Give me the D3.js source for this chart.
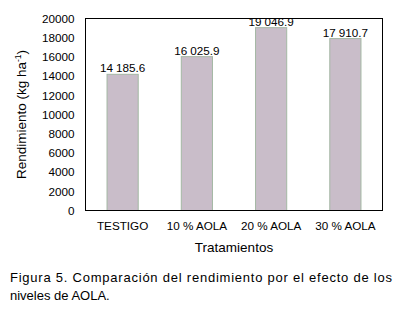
<!DOCTYPE html>
<html><head><meta charset="utf-8">
<script src="https://cdn.jsdelivr.net/npm/d3@7"></script>
<style>body{margin:0;background:#fff}svg{display:block;font-family:"Liberation Sans",Arial,sans-serif}</style>
</head><body>
<svg id="c" width="404" height="313"></svg>
<script>
const categories = ["TESTIGO", "10 % AOLA", "20 % AOLA", "30 % AOLA"];
const yields = [14185.6, 16025.9, 19046.9, 17910.7];
const valueLabels = ["14 185.6", "16 025.9", "19 046.9", "17 910.7"];
const yTicks = [0, 2000, 4000, 6000, 8000, 10000, 12000, 14000, 16000, 18000, 20000];

const svg = d3.select("#c");
const m = {l: 85.5, t: 18.5, r: 382.5, b: 210.5};

const x = d3.scaleBand().domain(categories).range([m.l, m.r]).paddingInner(0.58).paddingOuter(0.29);
const y = d3.scaleLinear().domain([0, 20000]).range([m.b, m.t]);

svg.append("g").selectAll("rect").data(yields).join("rect")
  .attr("x", (d,i) => x(categories[i]))
  .attr("y", d => y(d))
  .attr("width", x.bandwidth())
  .attr("height", d => y(0) - y(d))
  .attr("fill", "#c9bdc9")
  .attr("stroke", "#a4b8a4").attr("stroke-width", 1);

svg.append("rect").attr("x", m.l).attr("y", m.t).attr("width", m.r - m.l).attr("height", m.b - m.t)
  .attr("fill","none").attr("stroke","#000").attr("stroke-width",1);

const yAxis = d3.axisLeft(y).tickValues(yTicks).tickSize(0).tickPadding(11).tickFormat(d3.format("d"));
const gy = svg.append("g").attr("transform", `translate(${m.l},0)`).call(yAxis);
gy.select(".domain").remove();
gy.selectAll("text").attr("font-size", "11.7px").attr("fill","#000").attr("font-family","Liberation Sans, Arial, sans-serif");

const xAxis = d3.axisBottom(x).tickSize(0).tickPadding(11);
const gx = svg.append("g").attr("transform", `translate(0,${m.b})`).call(xAxis);
gx.select(".domain").remove();
gx.selectAll("text").attr("font-size", "11.7px").attr("fill","#000").attr("font-family","Liberation Sans, Arial, sans-serif");

svg.append("g").selectAll("text").data(yields).join("text")
  .attr("x", (d,i) => x(categories[i]) + x.bandwidth()/2)
  .attr("y", d => y(d) - 2)
  .attr("text-anchor","middle").attr("font-size","11.7px")
  .text((d,i) => valueLabels[i]);

const yt = svg.append("text").attr("transform","translate(26,114.5) rotate(-90)")
  .attr("text-anchor","middle").attr("font-size","13.5px");
yt.append("tspan").text("Rendimiento (kg ha");
yt.append("tspan").attr("font-size","8.5px").attr("dy","-5").text("-1");
yt.append("tspan").attr("dy","5").text(")");

svg.append("text").attr("x", (m.l+m.r)/2).attr("y", 252).attr("text-anchor","middle")
  .attr("font-size","13.5px").text("Tratamientos");

svg.append("text").attr("x", 10).attr("y", 282).attr("font-size","13px")
  .attr("textLength", 382).attr("lengthAdjust","spacing")
  .text("Figura 5. Comparación del rendimiento por el efecto de los");
svg.append("text").attr("x", 10).attr("y", 300).attr("font-size","13px")
  .text("niveles de AOLA.");
</script>
</body></html>
